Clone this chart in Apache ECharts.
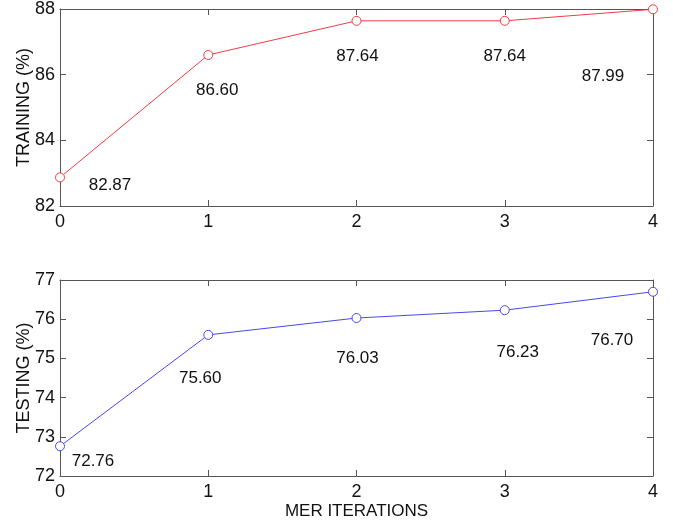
<!DOCTYPE html>
<html>
<head>
<meta charset="utf-8">
<script src="https://cdn.jsdelivr.net/npm/echarts@6/dist/echarts.min.js"></script>
<style>
  html, body { margin: 0; padding: 0; background: #fff; }
  #chart { width: 673px; height: 523px; }
</style>
</head>
<body>
<div id="chart"></div>
<script>
// data
var iterations = [0, 1, 2, 3, 4];
var training = [82.87, 86.60, 87.64, 87.64, 87.99];
var testing = [72.76, 75.60, 76.03, 76.23, 76.70];

// label offsets (px) for the value annotations, per point
var trainOffsets = [[50, 8], [9, 35], [1, 35], [0, 35], [-50, 67]];
var testOffsets = [[33, 15], [-8, 43], [1, 40], [13, 42], [-41, 49]];

var FONT = 'Liberation Sans';
var RED = '#f03c44';
var BLUE = '#4848ee';

function pts(vals, offs) {
  return iterations.map(function (x, i) {
    return {
      value: [x, vals[i]],
      label: {
        show: true,
        position: 'inside',
        offset: offs[i],
        formatter: function (p) { return p.value[1].toFixed(2); },
        color: '#111',
        fontFamily: FONT,
        fontSize: 17
      }
    };
  });
}

function xAx(gi, top) {
  return {
    type: 'value', gridIndex: gi, min: 0, max: 4, interval: 1,
    position: top ? 'top' : 'bottom',
    axisLine: { show: true, onZero: false, lineStyle: { color: '#555', width: 1 } },
    axisTick: { show: true, inside: true, length: 6, lineStyle: { color: '#555' } },
    axisLabel: { show: !top, color: '#111', fontFamily: FONT, fontSize: 18, margin: 7 },
    splitLine: { show: false },
    name: (!top && gi === 1) ? 'MER ITERATIONS' : '',
    nameLocation: 'middle', nameGap: 27,
    nameTextStyle: { color: '#111', fontFamily: FONT, fontSize: 17 }
  };
}

function yAx(gi, right, min, max, step, name) {
  return {
    type: 'value', gridIndex: gi, min: min, max: max, interval: step,
    position: right ? 'right' : 'left',
    axisLine: { show: true, onZero: false, lineStyle: { color: '#555', width: 1 } },
    axisTick: { show: true, inside: true, length: 6, lineStyle: { color: '#555' } },
    axisLabel: { show: !right, color: '#111', fontFamily: FONT, fontSize: 18, margin: 5 },
    splitLine: { show: false },
    name: right ? '' : name,
    nameLocation: 'middle', nameGap: 27, nameRotate: 90, nameMoveOverlap: false,
    nameTextStyle: { color: '#111', fontFamily: FONT, fontSize: 18 }
  };
}

var chart = echarts.init(document.getElementById('chart'), null, { renderer: 'canvas' });
chart.setOption({
  animation: false,
  backgroundColor: '#fff',
  grid: [
    { left: 60, top: 9, width: 593, height: 197, outerBoundsMode: 'none', containLabel: false },
    { left: 60, top: 280, width: 593, height: 196, outerBoundsMode: 'none', containLabel: false }
  ],
  xAxis: [xAx(0, false), xAx(0, true), xAx(1, false), xAx(1, true)],
  yAxis: [
    yAx(0, false, 82, 88, 2, 'TRAINING (%)'),
    yAx(0, true, 82, 88, 2, ''),
    yAx(1, false, 72, 77, 1, 'TESTING (%)'),
    yAx(1, true, 72, 77, 1, '')
  ],
  series: [
    {
      type: 'line', xAxisIndex: 0, yAxisIndex: 0,
      data: pts(training, trainOffsets),
      symbol: 'circle', symbolSize: 9,
      itemStyle: { color: '#fff', borderColor: RED, borderWidth: 1 },
      lineStyle: { color: RED, width: 1 }
    },
    {
      type: 'line', xAxisIndex: 2, yAxisIndex: 2,
      data: pts(testing, testOffsets),
      symbol: 'circle', symbolSize: 9,
      itemStyle: { color: '#fff', borderColor: BLUE, borderWidth: 1 },
      lineStyle: { color: BLUE, width: 1 }
    }
  ]
});
</script>
</body>
</html>
